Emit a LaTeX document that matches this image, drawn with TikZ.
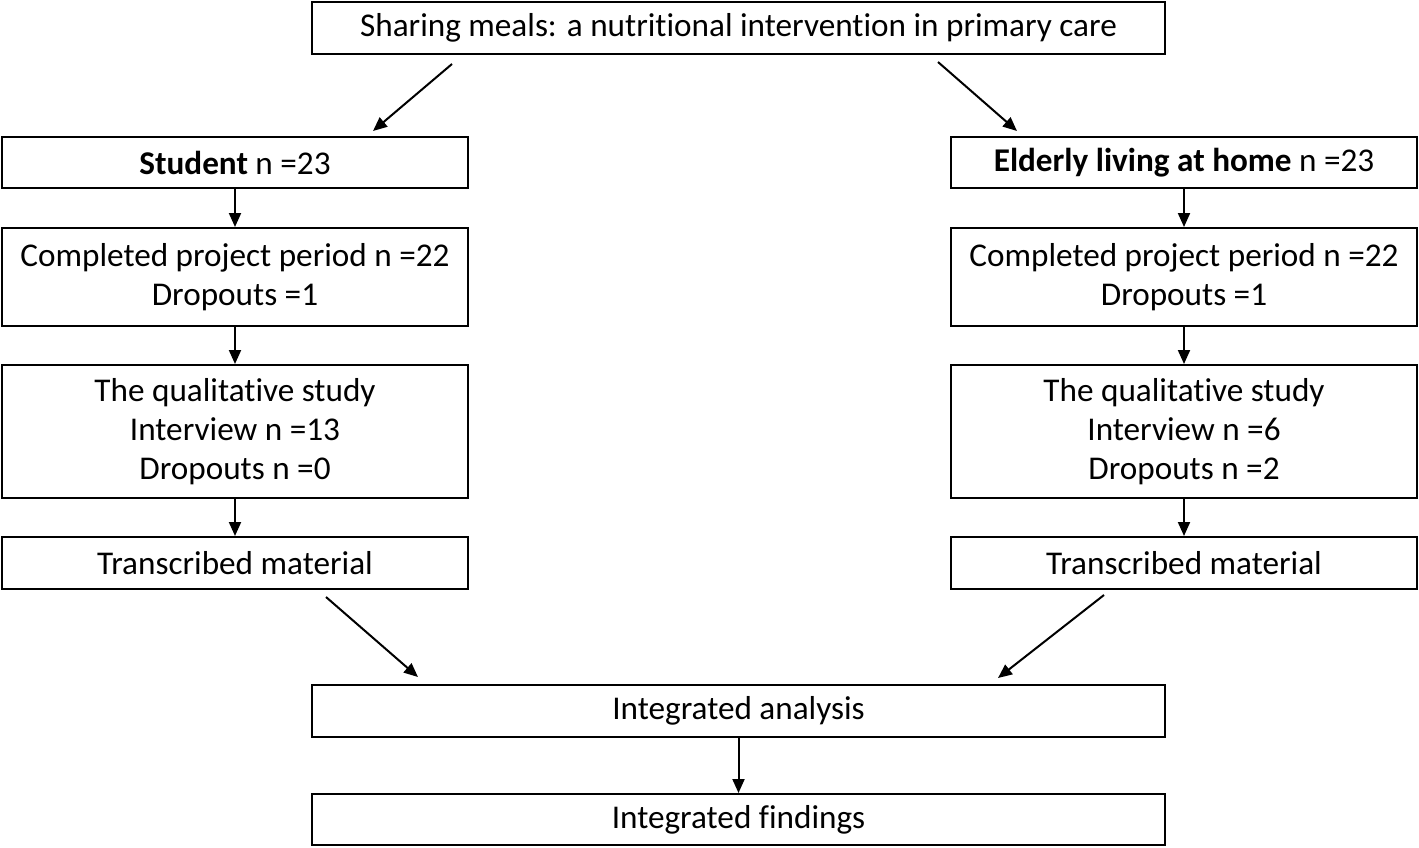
\documentclass[tikz,border=0pt]{standalone}
\usepackage{fontspec}
\setmainfont{Carlito}[Ligatures={NoCommon}]
\usetikzlibrary{arrows.meta}
\begin{document}
\begin{tikzpicture}[x=0.5pt,y=-0.5pt,
  box/.style={draw,line width=1pt,inner sep=0pt,align=center,font=\fontsize{16.6}{19.5}\selectfont},
  arr/.style={line width=1pt,-{Triangle[length=7pt,width=6pt]}}]
\useasboundingbox (0,0) rectangle (1419,847);
\node[box,minimum width=426.5pt,minimum height=26pt] (top) at (738.5,28) {Sharing meals: a nutritional intervention in primary care};
\node[box,minimum width=233pt,minimum height=25.5pt] (stu) at (235,162.5) {\textbf{Student} n =23};
\node[box,minimum width=233pt,minimum height=25.5pt] (eld) at (1184,162.5) {\textbf{Elderly living at home} n =23};
\node[box,minimum width=233pt,minimum height=49pt] (compL) at (235,277) {Completed project period n =22\\Dropouts =1};
\node[box,minimum width=233pt,minimum height=49pt] (compR) at (1184,277) {Completed project period n =22\\Dropouts =1};
\node[box,minimum width=233pt,minimum height=66.5pt] (qualL) at (235,431.5) {The qualitative study\\Interview n =13\\Dropouts n =0};
\node[box,minimum width=233pt,minimum height=66.5pt] (qualR) at (1184,431.5) {The qualitative study\\Interview n =6\\Dropouts n =2};
\node[box,minimum width=233pt,minimum height=26pt] (trL) at (235,563) {Transcribed material};
\node[box,minimum width=233pt,minimum height=26pt] (trR) at (1184,563) {Transcribed material};
\node[box,minimum width=426.5pt,minimum height=26pt] (ia) at (738.5,711) {Integrated analysis};
\node[box,minimum width=426.5pt,minimum height=25.5pt] (if) at (738.5,819.5) {Integrated findings};
\coordinate (c1a) at (452,64); \coordinate (c1b) at (373,131);
\coordinate (c2a) at (938,62); \coordinate (c2b) at (1017,131);
\coordinate (c3a) at (326,597); \coordinate (c3b) at (418,677);
\coordinate (c4a) at (1104,595); \coordinate (c4b) at (998,678);
\draw[arr] (c1a) -- (c1b);
\draw[arr] (c2a) -- (c2b);
\draw[arr] (stu) -- (compL);
\draw[arr] (compL) -- (qualL);
\draw[arr] (qualL) -- (trL);
\draw[arr] (eld) -- (compR);
\draw[arr] (compR) -- (qualR);
\draw[arr] (qualR) -- (trR);
\draw[arr] (c3a) -- (c3b);
\draw[arr] (c4a) -- (c4b);
\draw[arr] (ia) -- (if);
\end{tikzpicture}
\end{document}
